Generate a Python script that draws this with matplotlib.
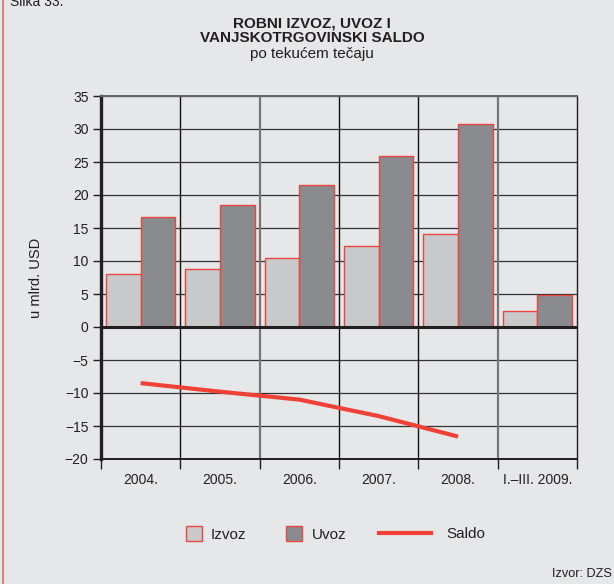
import matplotlib.pyplot as plt
import numpy as np
from matplotlib.lines import Line2D
from matplotlib.patches import Patch

plt.rcParams['font.family'] = ['Liberation Sans', 'DejaVu Sans']

categories = ["2004.", "2005.", "2006.", "2007.", "2008.", "I.–III. 2009."]
izvoz = [8.0, 8.8, 10.4, 12.3, 14.1, 2.5]
uvoz = [16.6, 18.5, 21.5, 25.9, 30.7, 4.8]
saldo = [-8.5, -9.8, -11.0, -13.5, -16.6]

BG = "#e6e7e8"
IZVOZ_C = "#c8c9cb"
UVOZ_C = "#8a8b8e"
EDGE_C = "#e8463f"
SALDO_C = "#ef4136"
TXT = "#231f20"

fig = plt.figure(figsize=(6.14, 5.84), dpi=100, facecolor=BG)
ax = fig.add_axes([101 / 614, 1 - 459 / 584, 476 / 614, 363 / 584])
ax.set_facecolor(BG)

x = np.arange(len(categories)) + 0.5
w = 0.437

# grid
for yv in range(-20, 36, 5):
    if yv in (-20, 0):
        continue
    ax.axhline(yv, color="#333333", lw=0.9, zorder=1)
bound_colors = ["#111111", "#777777", "#111111", "#111111", "#777777"]
for i, c in enumerate(bound_colors):
    ax.axvline(i + 1, color=c, lw=1.0 if c == "#111111" else 1.6, zorder=1)

ax.bar(x - w / 2, izvoz, w, color=IZVOZ_C, edgecolor=EDGE_C, linewidth=1.0, zorder=2)
ax.bar(x + w / 2, uvoz, w, color=UVOZ_C, edgecolor=EDGE_C, linewidth=1.0, zorder=2)
ax.axhline(0, color=TXT, lw=2.2, zorder=3)
ax.plot(x[:len(saldo)], saldo, color=SALDO_C, lw=3.0, solid_capstyle="butt", zorder=4)

ax.set_xlim(0, 6)
ax.set_ylim(-20, 35)
ax.set_yticks(range(-20, 36, 5))
ax.set_xticks(range(0, 7))
ax.set_xticklabels([])
ax.set_xticks(x, minor=True)
ax.set_xticklabels(categories, minor=True)
ax.tick_params(axis="x", which="major", direction="out", length=7, width=1, color=TXT)
ax.tick_params(axis="x", which="minor", length=0, pad=10, labelsize=10, labelcolor=TXT)
ax.tick_params(axis="y", direction="out", length=6, width=1, color=TXT,
               labelsize=10, labelcolor=TXT, pad=3)

ax.spines["left"].set_linewidth(2.4)
ax.spines["left"].set_color(TXT)
ax.spines["bottom"].set_linewidth(1.4)
ax.spines["bottom"].set_color(TXT)
ax.spines["right"].set_linewidth(1.0)
ax.spines["right"].set_color(TXT)
ax.spines["top"].set_linewidth(1.4)
ax.spines["top"].set_color("#666666")

ax.set_ylabel("u mlrd. USD", fontsize=10.5, color=TXT, labelpad=16)

fig.text(312 / 614, 1 - 23 / 584, "ROBNI IZVOZ, UVOZ I", ha="center", va="center",
         fontsize=11, fontweight="bold", color=TXT)
fig.text(312 / 614, 1 - 38.5 / 584, "VANJSKOTRGOVINSKI SALDO", ha="center", va="center",
         fontsize=11, fontweight="bold", color=TXT)
fig.text(312 / 614, 1 - 54 / 584, "po tekućem tečaju", ha="center", va="center",
         fontsize=11, color=TXT)
fig.text(10 / 614, 1 - 2 / 584, "Slika 33.", ha="left", va="center",
         fontsize=10, color=TXT)
fig.text(612 / 614, 1 - 574 / 584, "Izvor: DZS", ha="right", va="center",
         fontsize=9.2, color=TXT)

# left border line
fig.add_artist(Line2D([3 / 614, 3 / 614], [0, 1], color="#ea7a72", lw=1.4))

bar_handles = [Patch(facecolor=IZVOZ_C, edgecolor=EDGE_C, lw=1.0, label="Izvoz"),
               Patch(facecolor=UVOZ_C, edgecolor=EDGE_C, lw=1.0, label="Uvoz")]
leg1 = fig.legend(handles=bar_handles, loc="center", ncol=2, frameon=False,
                  bbox_to_anchor=(266 / 614, 1 - 534 / 584), handlelength=1.05,
                  handleheight=1.05, handletextpad=0.6, columnspacing=2.6,
                  prop={"size": 11})
line_handle = [Line2D([0], [0], color=SALDO_C, lw=3.0, label="Saldo")]
leg2 = fig.legend(handles=line_handle, loc="center", frameon=False,
                  bbox_to_anchor=(432 / 614, 1 - 534 / 584), handlelength=3.4,
                  handletextpad=1.0, prop={"size": 11})
for t in leg1.get_texts() + leg2.get_texts():
    t.set_color(TXT)

fig.savefig("out.png", dpi=100, facecolor=BG)
